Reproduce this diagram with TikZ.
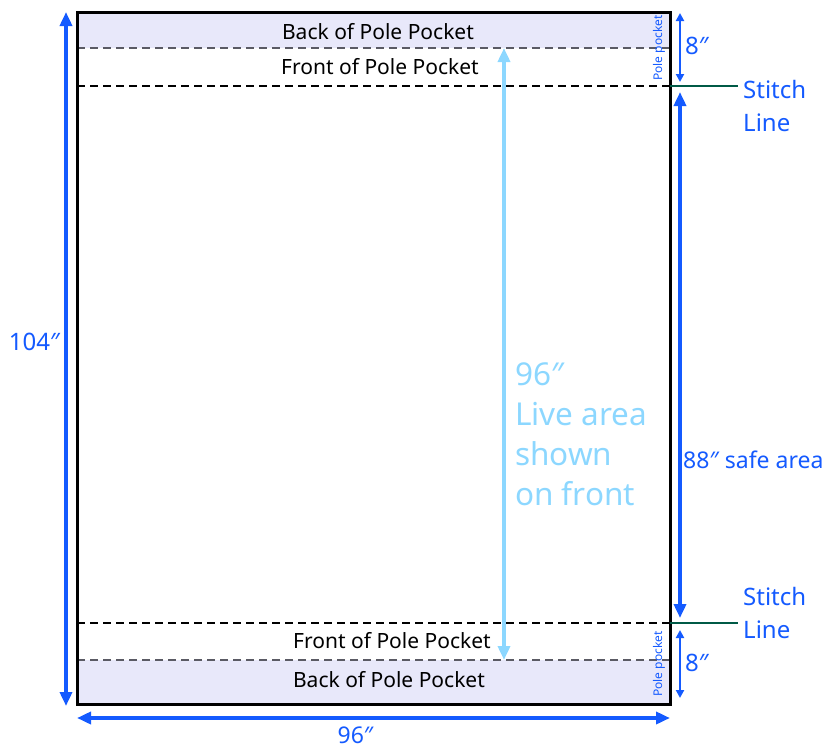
\documentclass[tikz,border=0pt]{standalone}
\usepackage{fontspec}
\setmainfont{Noto Sans}
\usepackage{xcolor}
\usetikzlibrary{arrows.meta,positioning,calc}
\definecolor{dimblue}{RGB}{20,90,255}
\definecolor{liveblue}{RGB}{140,215,255}
\definecolor{pocketfill}{RGB}{232,232,250}
\definecolor{stitchgreen}{RGB}{0,90,70}
\definecolor{pocketgray}{RGB}{90,90,100}

\begin{document}
\begin{tikzpicture}[x=1pt,y=-1pt,
		dim/.style={dimblue, line width=4pt, {Triangle[length=14pt,width=12pt]}-{Triangle[length=14pt,width=12pt]}},
		smalldim/.style={dimblue, line width=2.5pt, {Triangle[length=8pt,width=8pt]}-{Triangle[length=8pt,width=8pt]}},
		cutline/.style={line width=2.6pt, dash pattern=on 8pt off 5pt},
		pocketlabel/.style={font=\fontsize{21}{24}\selectfont, inner sep=0pt},
		dimlabel/.style={text=dimblue, font=\fontsize{24}{29}\selectfont, inner sep=0pt}]
	\useasboundingbox (0,0) rectangle (828,750);
	
	% Banner corners and fold lines
	\coordinate (tl) at (77,12);
	\coordinate (br) at (670,704);
	\coordinate (backtopL) at (77,48);   \coordinate (backtopR) at (670,48);
	\coordinate (stitchtopL) at (77,86); \coordinate (stitchtopR) at (670,86);
	\coordinate (stitchbotL) at (77,623); \coordinate (stitchbotR) at (670,623);
	\coordinate (backbotL) at (77,660);  \coordinate (backbotR) at (670,660);
	
	% Pockets
	\fill[pocketfill] (tl) rectangle (backtopR);
	\fill[pocketfill] (backbotL) rectangle (br);
	\draw[cutline, pocketgray] (backtopL) -- (backtopR);
	\draw[cutline, pocketgray] (backbotL) -- (backbotR);
	\draw[cutline] (stitchtopL) -- (stitchtopR);
	\draw[cutline] (stitchbotL) -- (stitchbotR);
	\draw[line width=3pt] (tl) rectangle (br);
	
	\node[pocketlabel] (backtop) at (378,32) {Back of Pole Pocket};
	\node[pocketlabel] (fronttop) at (380,67) {Front of Pole Pocket};
	\node[pocketlabel] (frontbot) at (392,641) {Front of Pole Pocket};
	\node[pocketlabel] (backbot) at (389,680) {Back of Pole Pocket};
	
	% Pole pocket side labels
	\node[text=dimblue, rotate=90, font=\fontsize{12}{14}\selectfont, inner sep=0pt] (pptop) at (659,48) {Pole pocket};
	\node[text=dimblue, rotate=90, font=\fontsize{12}{14}\selectfont, inner sep=0pt] (ppbot) at (659,664) {Pole pocket};
	
	% Outer dimensions
	\coordinate (htop) at (66,12);
	\coordinate (hbot) at (66,706);
	\draw[dim] (htop) -- (hbot);
	\node[dimlabel, anchor=east] (height) at (60,342) {104″};
	\coordinate (wleft) at (77,718);
	\coordinate (wright) at (670,718);
	\draw[dim] (wleft) -- (wright);
	\node[dimlabel, font=\fontsize{23}{27}\selectfont, below=9pt of $(wleft)!0.5!(wright)$, xshift=-18pt] (width) {96″};
	
	% Pocket depths
	\coordinate (ptop1) at (680,13);
	\coordinate (ptop2) at (680,82);
	\draw[smalldim] (ptop1) -- (ptop2);
	\node[dimlabel, anchor=west] (depthtop) at (685,46) {8″};
	\coordinate (pbot1) at (680,630);
	\coordinate (pbot2) at (680,698);
	\draw[smalldim] (pbot1) -- (pbot2);
	\node[dimlabel, anchor=west] (depthbot) at (685,663) {8″};
	
	% Safe area
	\coordinate (safetop) at (680,92);
	\coordinate (safebot) at (680,618);
	\draw[dim] (safetop) -- (safebot);
	\node[text=dimblue, font=\fontsize{23}{27}\selectfont, inner sep=0pt, anchor=west] (safe) at (683,460) {88″ safe area};
	
	% Stitch lines
	\coordinate (stitchtopE) at (738,86);
	\coordinate (stitchbotE) at (738,623);
	\draw[stitchgreen, line width=2.5pt] (stitchtopR) -- (stitchtopE);
	\draw[stitchgreen, line width=2.5pt] (stitchbotR) -- (stitchbotE);
	\node[dimlabel, align=left, anchor=north west, font=\fontsize{24}{33}\selectfont] (stitchtop) at (743,80) {Stitch\\Line};
	\node[dimlabel, align=left, anchor=north west, font=\fontsize{24}{33}\selectfont] (stitchbot) at (743,587) {Stitch\\Line};
	
	% Live area
	\coordinate (livetop) at (504,48);
	\coordinate (livebot) at (504,660);
	\draw[dim, liveblue] (livetop) -- (livebot);
	\node[text=liveblue, align=left, anchor=north west, inner sep=0pt, font=\fontsize{31.5}{40}\selectfont] (live) at (515,362) {96″\\Live area\\shown\\on front};
\end{tikzpicture}
\end{document}
